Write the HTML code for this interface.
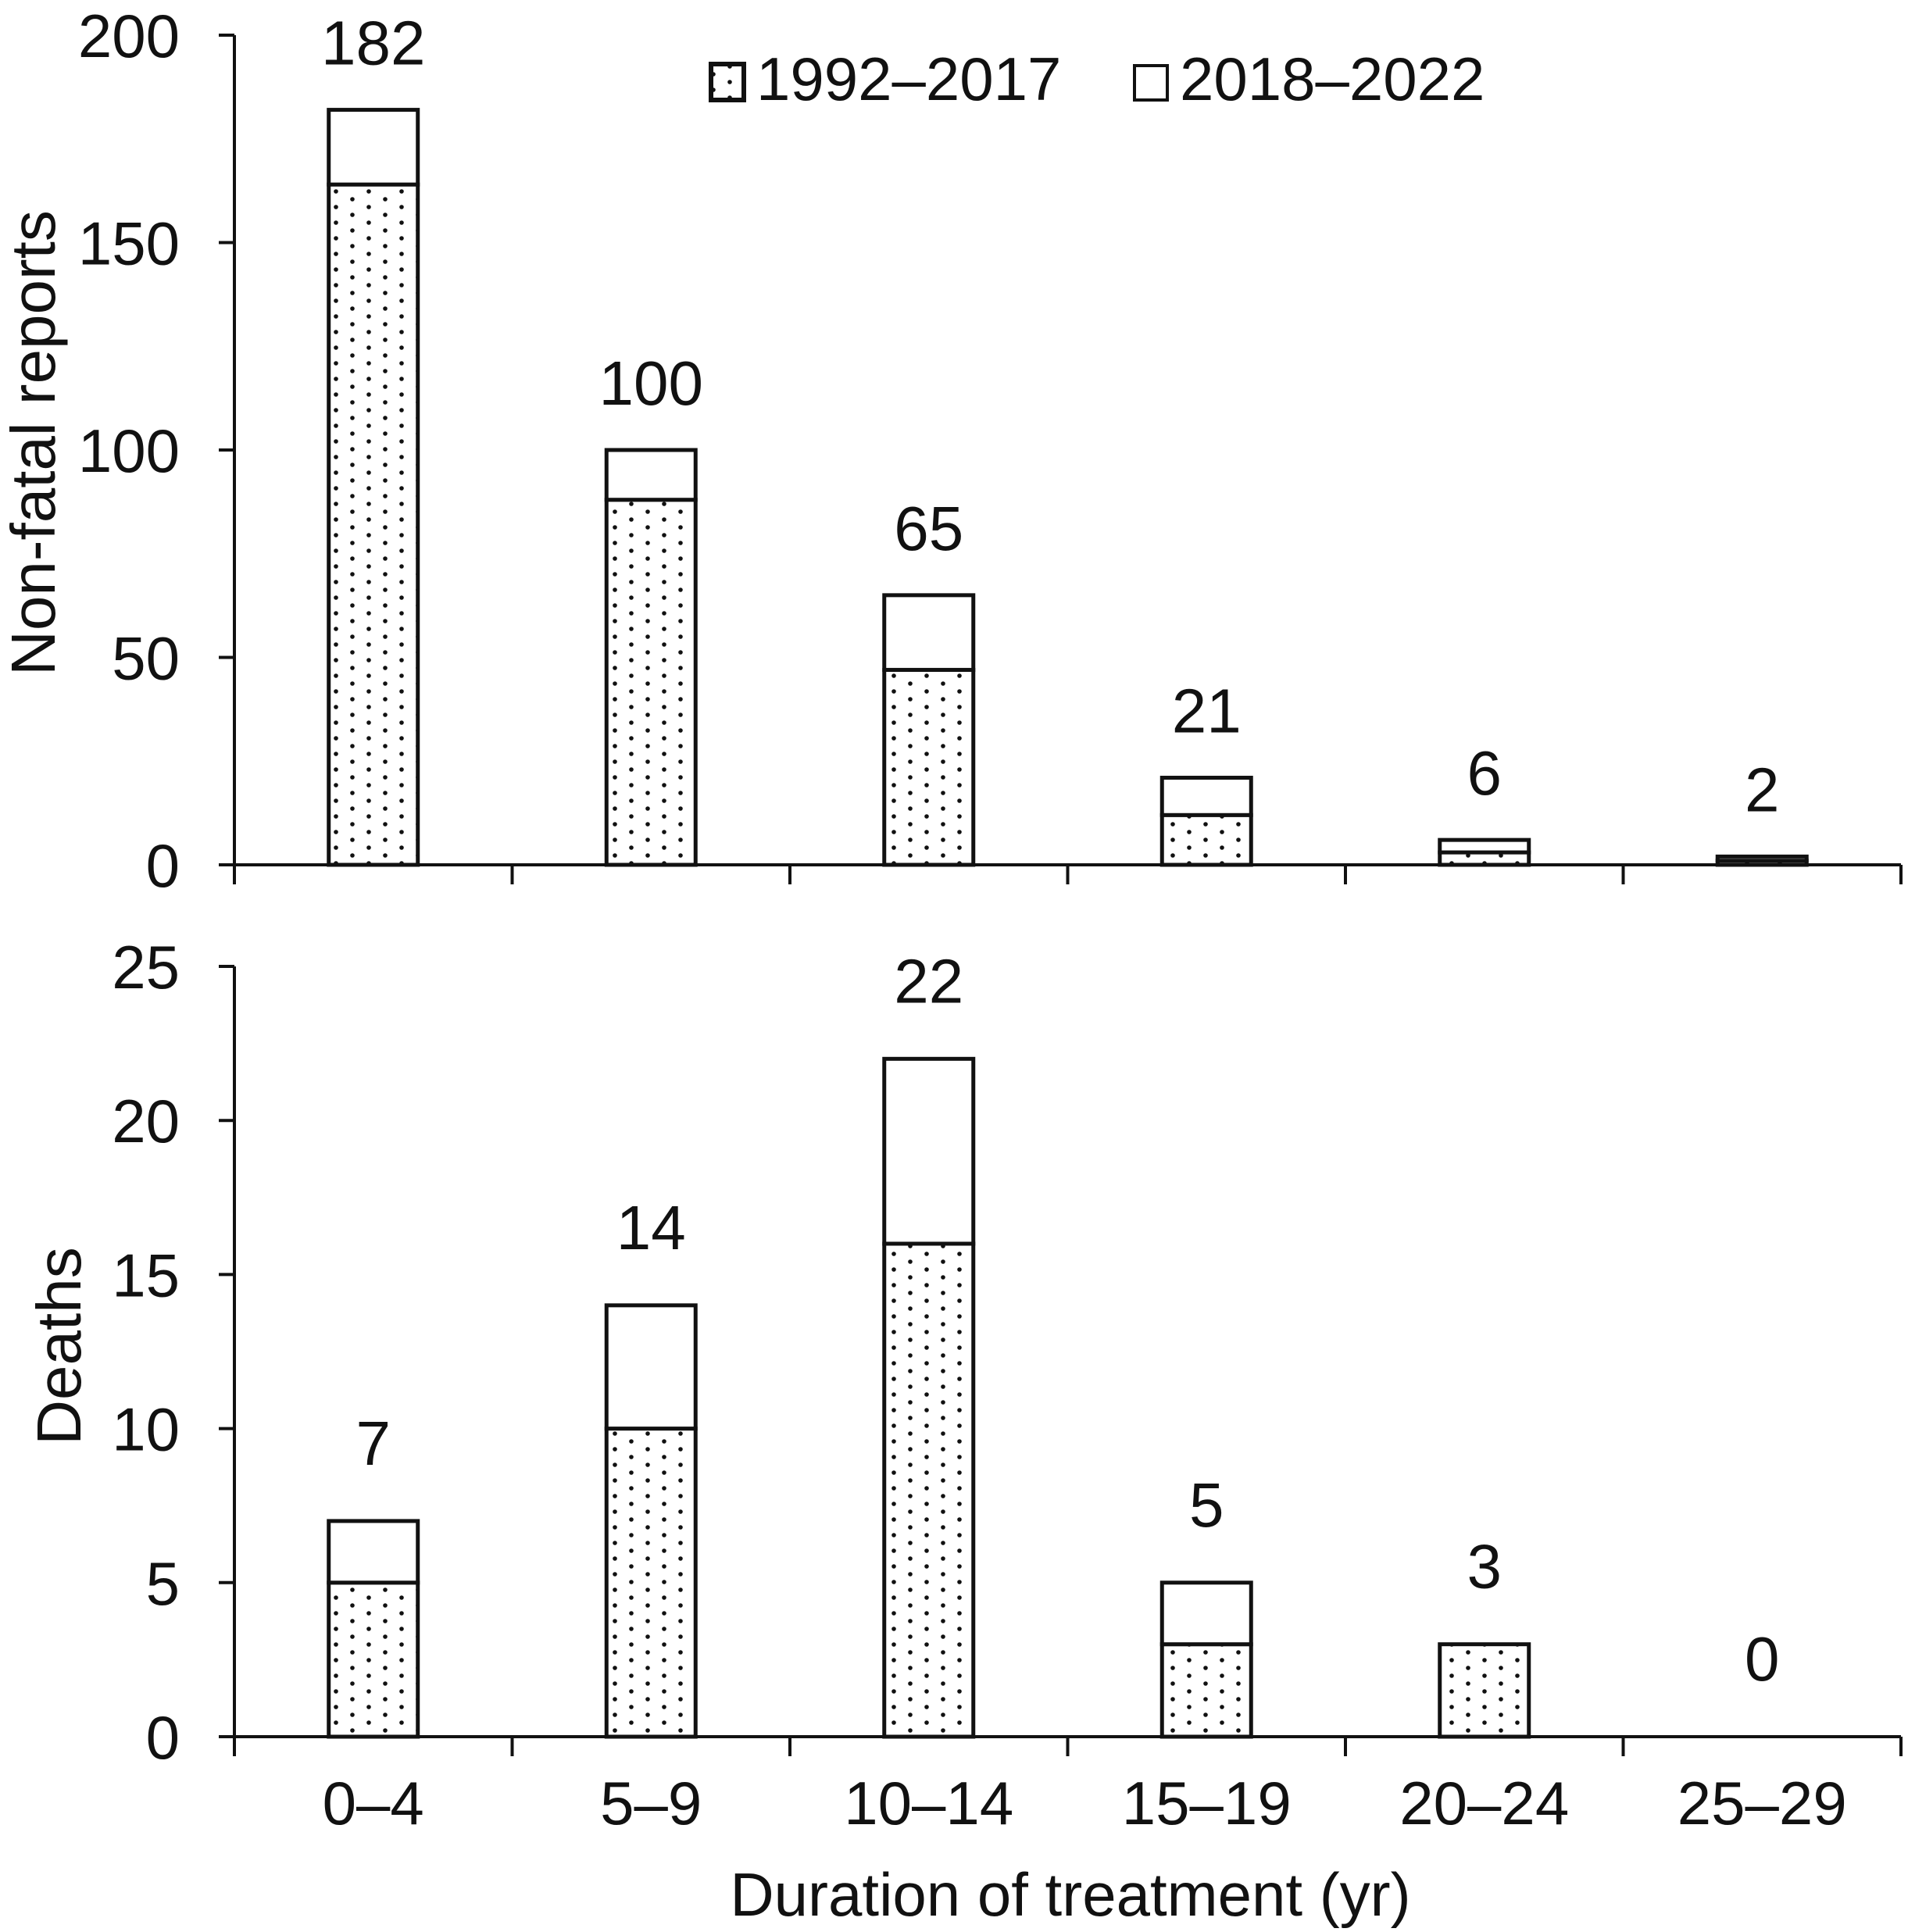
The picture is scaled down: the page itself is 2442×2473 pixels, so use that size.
<!DOCTYPE html>
<html><head><meta charset="utf-8"><style>
html,body{margin:0;padding:0;background:#fff}
svg{display:block}
text{font-family:"Liberation Sans",sans-serif;fill:#111}
</style></head><body>
<svg id="chart" width="2442" height="2473" viewBox="0 0 2442 2473" xmlns="http://www.w3.org/2000/svg">
<defs>
<pattern id="dots" patternUnits="userSpaceOnUse" width="42" height="20">
<rect width="42" height="20" fill="#fff"/>
<circle cx="10" cy="5" r="2.8" fill="#111"/>
<circle cx="31" cy="15" r="2.8" fill="#111"/>
</pattern>
</defs>
<g id="g"></g>
</svg>
<script>
const categories = ["0–4","5–9","10–14","15–19","20–24","25–29"];
const topTotals = [182,100,65,21,6,2];
const topEarly = [164,88,47,12,3,1];
const topTicks = [0,50,100,150,200];
const botTotals = [7,14,22,5,3,0];
const botEarly = [5,10,16,3,3,0];
const botTicks = [0,5,10,15,20,25];

const NS="http://www.w3.org/2000/svg";
const g=document.getElementById('g');
function mk(tag,attrs,parent){const e=document.createElementNS(NS,tag);for(const k in attrs)e.setAttribute(k,attrs[k]);(parent||g).appendChild(e);return e;}
const x0=300, x1=2433, bw=(x1-x0)/categories.length, barW=114;
const xC=i=>x0+bw*(i+0.5);

function panel(name,yTop,yZero,max,ticks,totals,early,showXLabels,gap){
  const y=v=>yZero-(v/max)*(yZero-yTop);
  const pg=mk('g',{});
  
  
  categories.forEach((c,i)=>{
    const cx=xC(i);
    if(totals[i]>0){
      const e=mk('rect',{x:cx-barW/2,y:y(early[i]),width:barW,height:y(0)-y(early[i]),fill:'url(#dots)',stroke:'#111','stroke-width':5},pg);
      
      
      const l=mk('rect',{x:cx-barW/2,y:y(totals[i]),width:barW,height:y(early[i])-y(totals[i]),fill:'#fff',stroke:'#111','stroke-width':5},pg);
      
      
    }
    const t=mk('text',{x:cx,y:y(totals[i])-gap,'text-anchor':'middle','font-size':80,transform:'',},pg);
    t.textContent=totals[i];
    
    
  });
  const ya=mk('line',{x1:x0,y1:yTop,x2:x0,y2:yZero+25,stroke:'#111','stroke-width':4},pg);
  
  
  const xa=mk('line',{x1:x0-15,y1:yZero,x2:x1,y2:yZero,stroke:'#111','stroke-width':4},pg);
  
  
  for(let i=1;i<=categories.length;i++){
    mk('line',{x1:x0+bw*i,y1:yZero,x2:x0+bw*i,y2:yZero+25,stroke:'#111','stroke-width':4},pg);
  }
  ticks.forEach(v=>{
    mk('line',{x1:x0-20,y1:y(v),x2:x0,y2:y(v),stroke:'#111','stroke-width':4},pg);
    const t=mk('text',{x:230,y:y(v)+28,'text-anchor':'end','font-size':78},pg);
    t.textContent=v;
    
    
  });
  if(showXLabels){
    categories.forEach((c,i)=>{
      const t=mk('text',{x:xC(i),y:2335,'text-anchor':'middle','font-size':78},pg);
      t.textContent=c;
      
      
    });
  }
}
panel('nonfatal-panel',45,1107,200,topTicks,topTotals,topEarly,false,58);
panel('deaths-panel',1237,2223,25,botTicks,botTotals,botEarly,true,72);

let t=mk('text',{x:0,y:0,'text-anchor':'middle','font-size':80,transform:'translate(70,567) rotate(-90)'});
t.textContent='Non-fatal reports';


t=mk('text',{x:0,y:0,'text-anchor':'middle','font-size':80,transform:'translate(103,1723) rotate(-90)'});
t.textContent='Deaths';


t=mk('text',{x:1370,y:2452,'text-anchor':'middle','font-size':78});
t.textContent='Duration of treatment (yr)';



const lg=mk('g',{});


let r=mk('rect',{x:910,y:82,width:42,height:46,fill:'url(#dots)',stroke:'#111','stroke-width':6},lg);


t=mk('text',{x:968,y:128,'font-size':78},lg);
t.textContent='1992–2017';


r=mk('rect',{x:1452,y:84,width:42,height:44,fill:'#fff',stroke:'#111','stroke-width':4},lg);


t=mk('text',{x:1510,y:128,'font-size':78},lg);
t.textContent='2018–2022';


</script>
</body></html>
